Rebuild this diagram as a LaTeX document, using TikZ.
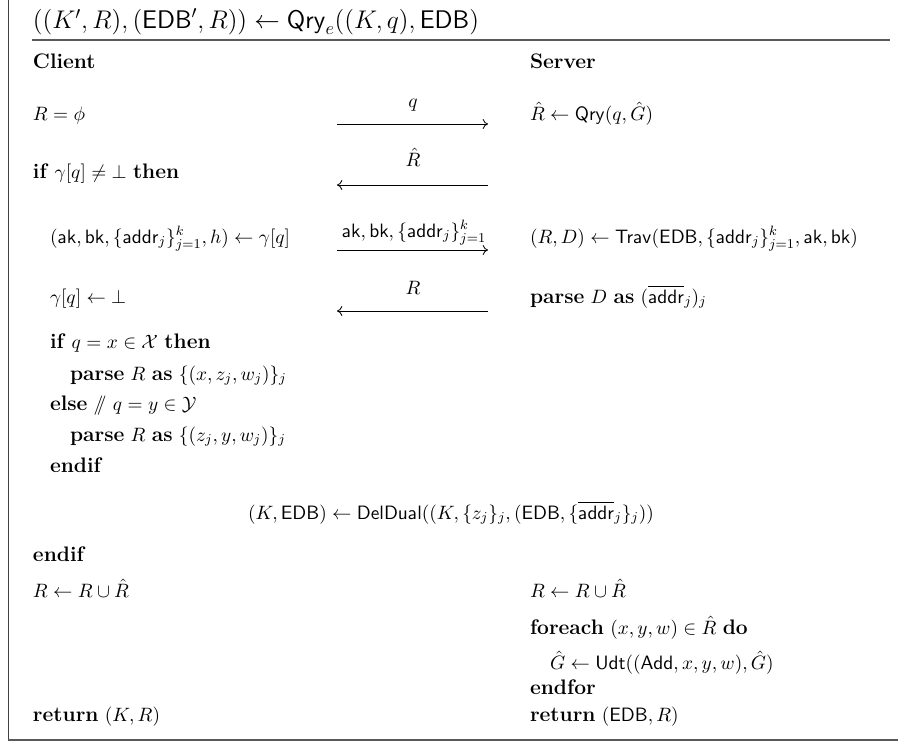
\RequirePackage{fix-cm}
\documentclass[tikz,border=0pt]{standalone}
\usepackage{amsmath,amssymb}
\usetikzlibrary{arrows.meta}
\newcommand{\kw}[1]{{\fontsize{12.6}{15}\selectfont\textbf{#1}}}
\begin{document}
\begin{tikzpicture}[x=0.6pt,y=-0.6pt,
  font=\fontsize{11.6}{14}\selectfont,
  txt/.style={anchor=base west,inner sep=0pt,outer sep=0pt},
  lbl/.style={anchor=base,inner sep=0pt,outer sep=0pt},
  msg/.style={line width=0.5pt,-{Computer Modern Rightarrow[length=3.2pt,width=6pt]}},
  frameline/.style={draw=black!65,line width=1.2pt},
  sideline/.style={draw=black!75,line width=0.6pt}]
\useasboundingbox (0,0) rectangle (898,742);
% frame
\draw[sideline] (8,0) -- (8,740);
\draw[frameline] (8,739.5) -- (898,739.5);
\draw[frameline] (32,40) -- (890,40);
% title
\node[txt,font=\fontsize{15.3}{18}\selectfont] (title) at (33,29) {$((K',R),(\mathsf{EDB}',R))\leftarrow\mathsf{Qry}_e((K,q),\mathsf{EDB})$};
% headers
\node[txt] (client) at (33,69) {\kw{Client}};
\node[txt] (server) at (530,69) {\kw{Server}};
% client column
\node[txt] (c1) at (33,120) {$R=\phi$};
\node[txt] (c2) at (33,178) {\kw{if} $\gamma[q]\neq\bot$ \kw{then}};
\node[txt] (c3) at (50,243) {$(\mathsf{ak},\mathsf{bk},\{\mathsf{addr}_j\}_{j=1}^k,h)\leftarrow\gamma[q]$};
\node[txt] (c4) at (50,303) {$\gamma[q]\leftarrow\bot$};
\node[txt] (c5) at (50,348) {\kw{if} $q=x\in\mathcal{X}$ \kw{then}};
\node[txt] (c6) at (70,380) {\kw{parse} $R$ \kw{as} $\{(x,z_j,w_j)\}_j$};
\node[txt] (c7) at (50,410) {\kw{else} $/\!\!/\ q=y\in\mathcal{Y}$};
\node[txt] (c8) at (70,441) {\kw{parse} $R$ \kw{as} $\{(z_j,y,w_j)\}_j$};
\node[txt] (c9) at (50,472) {\kw{endif}};
\node[lbl] (dd) at (451,519) {$(K,\mathsf{EDB})\leftarrow\mathsf{DelDual}((K,\{z_j\}_j,(\mathsf{EDB},\{\overline{\mathsf{addr}}_j\}_j))$};
\node[txt] (c10) at (33,561) {\kw{endif}};
\node[txt] (c11) at (33,597) {$R\leftarrow R\cup\hat R$};
\node[txt] (c15) at (33,721) {\kw{return} $(K,R)$};
% server column
\node[txt] (s1) at (530,120) {$\hat R\leftarrow\mathsf{Qry}(q,\hat G)$};
\node[txt] (s3) at (530,243) {$(R,D)\leftarrow\mathsf{Trav}(\mathsf{EDB},\{\mathsf{addr}_j\}_{j=1}^k,\mathsf{ak},\mathsf{bk})$};
\node[txt] (s4) at (530,303) {\kw{parse} $D$ \kw{as} $(\overline{\mathsf{addr}}_j)_j$};
\node[txt] (s11) at (530,597) {$R\leftarrow R\cup\hat R$};
\node[txt] (s12) at (530,634) {\kw{foreach} $(x,y,w)\in\hat R$ \kw{do}};
\node[txt] (s13) at (550,669) {$\hat G\leftarrow\mathsf{Udt}((\mathsf{Add},x,y,w),\hat G)$};
\node[txt] (s14) at (530,694) {\kw{endfor}};
\node[txt] (s15) at (530,721) {\kw{return} $(\mathsf{EDB},R)$};
% messages
\coordinate (m1l) at (337,124); \coordinate (m1r) at (488,124);
\coordinate (m2l) at (337,185); \coordinate (m2r) at (488,185);
\coordinate (m3l) at (337,250); \coordinate (m3r) at (488,250);
\coordinate (m4l) at (337,311); \coordinate (m4r) at (488,311);
\draw[msg] (m1l) -- (m1r);
\draw[msg] (m2r) -- (m2l);
\draw[msg] (m3l) -- (m3r);
\draw[msg] (m4r) -- (m4l);
\node[lbl] (q1) at (413,108) {$q$};
\node[lbl] (q2) at (413,166) {$\hat R$};
\node[lbl] (q3) at (414,237) {$\mathsf{ak},\mathsf{bk},\{\mathsf{addr}_j\}_{j=1}^k$};
\node[lbl] (q4) at (413,294) {$R$};
\end{tikzpicture}
\end{document}
